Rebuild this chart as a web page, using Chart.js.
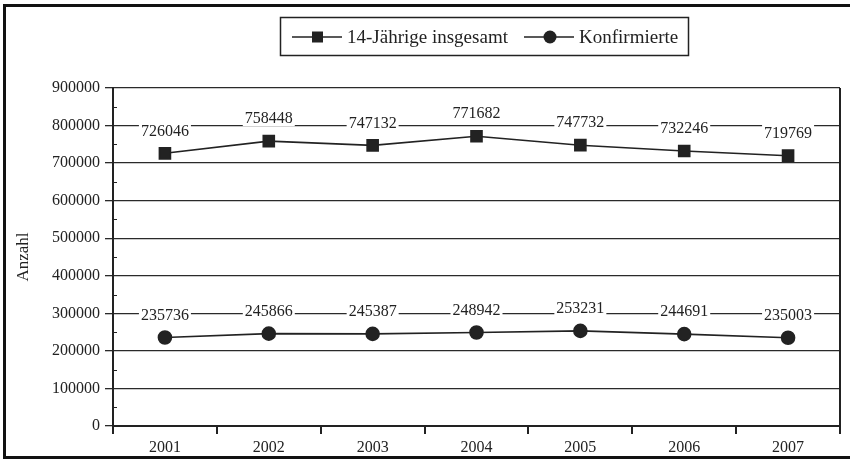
<!DOCTYPE html>
<html>
<head>
<meta charset="utf-8">
<script src="https://cdn.jsdelivr.net/npm/chart.js@4"></script>
<style>
  html, body { margin: 0; padding: 0; background: #fff; }
  .frame { position: relative; width: 850px; height: 461px; }
  .frame::after {
    content: ''; position: absolute; left: 3px; top: 4px; width: 860px; height: 455px;
    border: 3px solid #111; box-sizing: border-box; pointer-events: none;
  }
  canvas { display: block; }
</style>
</head>
<body>
<div class="frame"><canvas id="chart" width="850" height="461"></canvas></div>
<script>
const years = ['2001', '2002', '2003', '2004', '2005', '2006', '2007'];
const insgesamt = [726046, 758448, 747132, 771682, 747732, 732246, 719769];
const konfirmierte = [235736, 245866, 245387, 248942, 253231, 244691, 235003];
const minorTicks = [50000, 150000, 250000, 350000, 450000, 550000, 650000, 750000, 850000];

const FONT = '"Liberation Serif", "DejaVu Serif", serif';

// value labels above the points, on a white patch over the grid
const valueLabels = {
    id: 'valueLabels',
    afterDatasetsDraw(chart) {
        const ctx = chart.ctx;
        ctx.save();
        ctx.font = '16px ' + FONT;
        ctx.textAlign = 'center';
        ctx.textBaseline = 'middle';
        chart.data.datasets.forEach((ds, i) => {
            chart.getDatasetMeta(i).data.forEach((pt, j) => {
                const txt = String(ds.data[j]);
                const w = ctx.measureText(txt).width;
                const y = pt.y - 23;
                ctx.fillStyle = '#fff';
                ctx.fillRect(pt.x - w / 2 - 2, y - 8, w + 4, 16);
                ctx.fillStyle = '#222';
                ctx.fillText(txt, pt.x, y + 1);
            });
        });
        ctx.restore();
    }
};

// right border, minor ticks and the legend box
const extras = {
    id: 'extras',
    afterDraw(chart) {
        const ctx = chart.ctx;
        const a = chart.chartArea;
        const y = chart.scales.y;
        ctx.save();
        ctx.strokeStyle = '#222';
        ctx.lineWidth = 2;
        ctx.beginPath();
        ctx.moveTo(a.right, a.top);
        ctx.lineTo(a.right, a.bottom + 8);
        ctx.stroke();
        ctx.lineWidth = 1;
        minorTicks.forEach(v => {
            const py = Math.round(y.getPixelForValue(v)) + 0.5;
            ctx.beginPath();
            ctx.moveTo(a.left, py);
            ctx.lineTo(a.left + 4, py);
            ctx.stroke();
        });

        // legend
        ctx.lineWidth = 1.5;
        ctx.strokeStyle = '#222';
        ctx.strokeRect(280.5, 17.5, 408, 38);
        ctx.font = '19px ' + FONT;
        ctx.textBaseline = 'middle';
        ctx.fillStyle = '#222';
        const cy = 37;
        const starts = [292, 524];
        chart.data.datasets.forEach((ds, i) => {
            const x0 = starts[i];
            ctx.beginPath();
            ctx.moveTo(x0, cy);
            ctx.lineTo(x0 + 50, cy);
            ctx.stroke();
            if (ds.pointStyle === 'rect') {
                ctx.fillRect(x0 + 20, cy - 5.5, 11, 11);
            } else {
                ctx.beginPath();
                ctx.arc(x0 + 26, cy, 6.5, 0, Math.PI * 2);
                ctx.fill();
            }
            ctx.fillText(ds.label, x0 + 55, cy + 1);
        });
        ctx.restore();
    }
};

new Chart(document.getElementById('chart'), {
    type: 'line',
    data: {
        labels: years,
        datasets: [
            {
                label: '14-Jährige insgesamt',
                data: insgesamt,
                borderColor: '#222',
                backgroundColor: '#222',
                borderWidth: 1.6,
                pointStyle: 'rect',
                pointRadius: 7.8,
                pointHoverRadius: 7.8,
                tension: 0
            },
            {
                label: 'Konfirmierte',
                data: konfirmierte,
                borderColor: '#222',
                backgroundColor: '#222',
                borderWidth: 1.6,
                pointStyle: 'circle',
                pointRadius: 6.5,
                pointHoverRadius: 6.5,
                tension: 0
            }
        ]
    },
    options: {
        responsive: false,
        animation: false,
        layout: { padding: { top: 88, right: 10, left: 0, bottom: 0 } },
        plugins: {
            legend: { display: false },
            tooltip: { enabled: false }
        },
        scales: {
            x: {
                offset: true,
                afterFit: s => { s.height = 35; },
                grid: {
                    offset: true,
                    drawOnChartArea: false,
                    drawTicks: true,
                    tickLength: 8,
                    color: '#222',
                    lineWidth: 2
                },
                border: { color: '#222', width: 2 },
                ticks: {
                    color: '#222',
                    padding: 4,
                    font: { family: FONT, size: 16 }
                }
            },
            y: {
                min: 0,
                max: 900000,
                afterFit: s => { s.width = 113; },
                title: {
                    display: true,
                    text: 'Anzahl',
                    color: '#222',
                    padding: { top: 13, bottom: 0 },
                    font: { family: FONT, size: 17 }
                },
                grid: {
                    color: '#2a2a2a',
                    lineWidth: 1.3,
                    tickLength: 8
                },
                border: { color: '#222', width: 2 },
                ticks: {
                    stepSize: 100000,
                    color: '#222',
                    padding: 5,
                    font: { family: FONT, size: 16 },
                    callback: v => String(v)
                }
            }
        }
    },
    plugins: [valueLabels, extras]
});
</script>
</body>
</html>
